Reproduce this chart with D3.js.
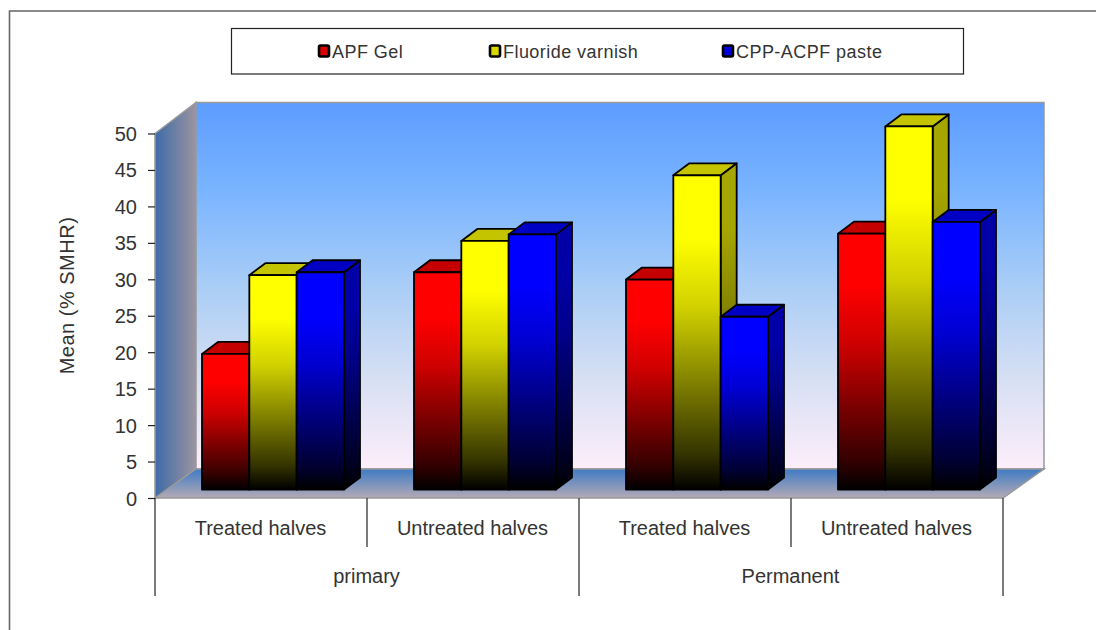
<!DOCTYPE html>
<html>
<head>
<meta charset="utf-8">
<script src="https://cdn.jsdelivr.net/npm/d3@7"></script>
<style>
  html, body { margin: 0; padding: 0; background: #fff; }
  svg { display: block; }
  text { font-family: "Liberation Sans", Arial, sans-serif; fill: #333; }
</style>
</head>
<body>
<svg id="chart" width="1096" height="630"></svg>
<script>
const groups = ['Treated halves', 'Untreated halves', 'Treated halves ', 'Untreated halves ']
const parents = ['primary', 'Permanent']
const seriesNames = ['APF Gel', 'Fluoride varnish', 'CPP-ACPF paste']
const seriesColors = ['#ff0000', '#ffff00', '#0000ff']
const apfGel = [18.6, 29.8, 28.8, 35.1]
const fluorideVarnish = [29.4, 34.1, 43.1, 49.8]
const cppAcpfPaste = [29.8, 35, 23.7, 36.7]
const seriesValues = [apfGel, fluorideVarnish, cppAcpfPaste]
const yTicks = [0, 5, 10, 15, 20, 25, 30, 35, 40, 45, 50]

const svg = d3.select('#chart')
const defs = svg.append('defs')

const plot = { left: 155, right: 1003, bottom: 498, top: 133.5 }
const wallDepth = { x: 41, y: -29 }
const wallTop = 102.5
const barInset = { x: 0, y: -8.5 }
const barDepth = { x: 16, y: -12 }

const xGroup = d3.scaleBand().domain(groups).range([plot.left, plot.right])
const xSeries = d3.scaleBand()
  .domain(seriesNames)
  .range([47, 47 + 142])
const y = d3.scaleLinear().domain([0, 50]).range([plot.bottom, plot.top])

const shade = (c, k) => {
  const rgb = d3.rgb(c)
  return d3.rgb(rgb.r * k, rgb.g * k, rgb.b * k).formatHex()
}

function linear(id, stops, horizontal) {
  const g = defs.append('linearGradient')
    .attr('id', id)
    .attr('x1', 0).attr('y1', 0)
    .attr('x2', horizontal ? 1 : 0).attr('y2', horizontal ? 0 : 1)
  g.selectAll('stop')
    .data(stops)
    .join('stop')
    .attr('offset', d => d[0])
    .attr('stop-color', d => d[1])
}

// bars fade to black, but hold the full colour for a while at the top
const fade = [[0, 1], [0.2, 1], [0.42, 0.82], [0.7, 0.45], [0.89, 0.2], [1, 0]]

linear('wall-back', [[0, '#5c9cff'], [0.25, '#7bb5ff'], [0.5, '#a9cdf6'], [0.75, '#d6dff3'], [1, '#fdeefb']])
linear('wall-side', [[0, '#3f6ba8'], [1, '#9b94a0']], true)
linear('wall-floor', [[0, '#3f7bc4'], [1, '#b4aab6']])
seriesColors.forEach((c, i) => {
  linear(`front-${i}`, fade.map(([o, k]) => [o, shade(c, k)]))
  linear(`side-${i}`, fade.map(([o, k]) => [o, shade(c, k * 0.65)]))
})

// outer frame, it runs off the page at the right and the bottom
svg.append('path')
  .attr('d', 'M9.5,630V11H1096')
  .attr('fill', 'none').attr('stroke', '#666').attr('stroke-width', 1.6)

// legend
const legend = svg.append('g')
legend.append('rect')
  .attr('x', 231.5).attr('y', 28.5)
  .attr('width', 732).attr('height', 45.5)
  .attr('fill', '#fff').attr('stroke', '#222').attr('stroke-width', 1.2)
const legendX = d3.scaleOrdinal().domain(seriesNames).range([319, 490, 723])
const legendItem = legend.selectAll('g')
  .data(seriesNames)
  .join('g')
  .attr('transform', d => `translate(${legendX(d)}, 45.5)`)
legendItem.append('rect')
  .attr('width', 10).attr('height', 11).attr('rx', 1.5)
  .attr('fill', (d, i) => shade(seriesColors[i], 0.85))
  .attr('stroke', '#000').attr('stroke-width', 2.6)
legendItem.append('text')
  .attr('x', 13).attr('y', 12.5)
  .attr('font-size', 18)
  .attr('letter-spacing', 0.45)
  .text(d => d)

// 3d walls
const pts = a => a.map(p => p.join(',')).join(' ')
const back = plot.left + wallDepth.x
svg.append('polygon')
  .attr('points', pts([[plot.left, y(50)], [back, wallTop], [back, y(0) + wallDepth.y], [plot.left, y(0)]]))
  .attr('fill', 'url(#wall-side)').attr('stroke', '#999').attr('stroke-width', 1.5)
svg.append('rect')
  .attr('x', back).attr('y', wallTop)
  .attr('width', plot.right - plot.left)
  .attr('height', y(0) + wallDepth.y - wallTop)
  .attr('fill', 'url(#wall-back)').attr('stroke', '#999').attr('stroke-width', 1.5)
svg.append('polygon')
  .attr('points', pts([[plot.left, y(0)], [plot.right, y(0)], [plot.right + wallDepth.x, y(0) + wallDepth.y], [back, y(0) + wallDepth.y]]))
  .attr('fill', 'url(#wall-floor)').attr('stroke', '#999').attr('stroke-width', 1.5)

// bars, drawn left to right so later ones overlap the side of earlier ones
const barData = groups.flatMap((g, gi) => seriesNames.map((s, si) => ({
  group: g, series: s, si, value: seriesValues[si][gi],
})))
const bar = svg.append('g').selectAll('g')
  .data(barData)
  .join('g')
  .attr('stroke', '#000').attr('stroke-width', 1.8).attr('stroke-linejoin', 'round')

const x0 = d => xGroup(d.group) + xSeries(d.series) + barInset.x
const x1 = d => x0(d) + xSeries.bandwidth()
const yTop = d => y(d.value) + barInset.y
const yBase = y(0) + barInset.y

bar.append('polygon')
  .attr('points', d => pts([[x1(d), yTop(d)], [x1(d) + barDepth.x, yTop(d) + barDepth.y], [x1(d) + barDepth.x, yBase + barDepth.y], [x1(d), yBase]]))
  .attr('fill', d => `url(#side-${d.si})`)
bar.append('polygon')
  .attr('points', d => pts([[x0(d), yTop(d)], [x0(d) + barDepth.x, yTop(d) + barDepth.y], [x1(d) + barDepth.x, yTop(d) + barDepth.y], [x1(d), yTop(d)]]))
  .attr('fill', d => shade(seriesColors[d.si], 0.77))
bar.append('rect')
  .attr('x', x0)
  .attr('y', yTop)
  .attr('width', xSeries.bandwidth())
  .attr('height', d => yBase - yTop(d))
  .attr('fill', d => `url(#front-${d.si})`)

// value axis
const yAxis = svg.append('g')
  .attr('transform', `translate(${plot.left}, 0)`)
  .call(d3.axisLeft(y).tickValues(yTicks).tickSize(7).tickPadding(11))
yAxis.select('.domain').remove()
yAxis.selectAll('line').attr('stroke', '#222').attr('stroke-width', 1.2)
yAxis.selectAll('text')
  .attr('font-family', null)
  .attr('font-size', 20)
  .attr('dy', '0.35em')

svg.append('text')
  .attr('transform', 'translate(74, 295.5) rotate(-90)')
  .attr('text-anchor', 'middle')
  .attr('font-size', 20)
  .attr('letter-spacing', 0.5)
  .text('Mean (% SMHR)')

// two level category axis
const separators = svg.append('g').attr('stroke', '#222').attr('stroke-width', 1.2)
groups.forEach((g, i) => {
  if (i % 2 === 1) {
    separators.append('line')
      .attr('x1', xGroup(g)).attr('x2', xGroup(g))
      .attr('y1', plot.bottom).attr('y2', 547)
  }
})
const parentEdges = [groups[0], groups[2]].map(g => xGroup(g)).concat(plot.right)
parentEdges.forEach(px => {
  separators.append('line')
    .attr('x1', px).attr('x2', px)
    .attr('y1', plot.bottom).attr('y2', 596)
})
svg.append('g').selectAll('text')
  .data(groups)
  .join('text')
  .attr('x', d => xGroup(d) + xGroup.bandwidth() / 2 - 0.5)
  .attr('y', 535)
  .attr('text-anchor', 'middle')
  .attr('font-size', 20)
  .text(d => d.trim())
svg.append('g').selectAll('text')
  .data(parents)
  .join('text')
  .attr('x', (d, i) => (parentEdges[i] + parentEdges[i + 1]) / 2 - 0.5)
  .attr('y', 583)
  .attr('text-anchor', 'middle')
  .attr('font-size', 20)
  .text(d => d)
</script>
</body>
</html>
